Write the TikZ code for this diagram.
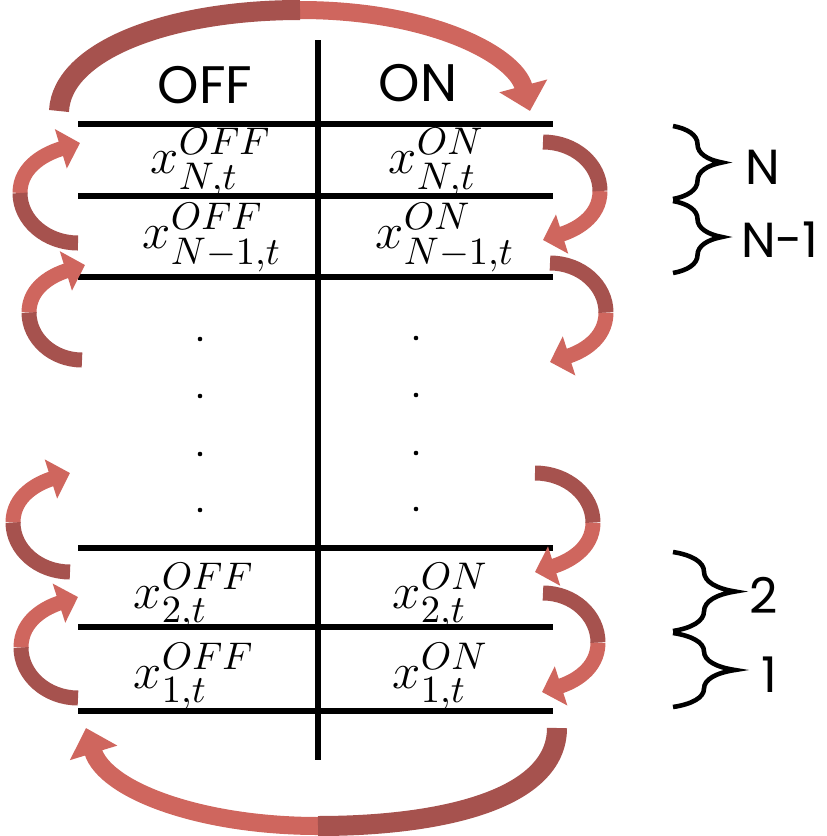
\documentclass[tikz,border=0pt]{standalone}
\usepackage{amsmath}
\usepackage[no-math]{fontspec}
\newfontfamily\headfont{Poppins}
\usetikzlibrary{arrows.meta,decorations.pathreplacing}
\definecolor{ribbonlight}{RGB}{207,102,94}
\definecolor{ribbondark}{RGB}{166,82,78}
\tikzset{
    gridline/.style={line width=1.5pt},
    ribbontail/.style={draw=ribbondark, line width=0.15cm},
    ribbonhead/.style={draw=ribbonlight, line width=0.15cm, -{Triangle[width=0.4cm,length=0.2cm]}},
    bigtail/.style={ribbontail, line width=0.2cm},
    bighead/.style={ribbonhead, line width=0.18cm, -{Triangle[width=0.48cm,length=0.26cm]}},
    colhead/.style={inner sep=0pt, font=\headfont\fontsize{15}{18}\selectfont},
    cellmath/.style={anchor=base west, inner sep=0pt, font=\fontsize{15.5}{18}\selectfont},
    bracedraw/.style={decorate, line width=1.3pt},
    bracelabel/.style={inner sep=0pt, font=\headfont\fontsize{14}{17}\selectfont}
}
\begin{document}
\begin{tikzpicture}[x=0.01cm, y=-0.01cm]
    \useasboundingbox (0,0) rectangle (827,836);
    % table
    \foreach \y in {124,196,277,548,627,711}
        \draw[gridline] (78,\y) -- (553,\y);
    \draw[gridline] (318,40) -- (318,760);
    \node[colhead] (offhead) at (205,85) {OFF};
    \node[colhead] (onhead) at (418,83) {ON};
    \node[cellmath] (offN) at (150,173) {$x^{OFF}_{N,t}$};
    \node[cellmath] (onN) at (388,173) {$x^{ON}_{N,t}$};
    \node[cellmath] (offNm) at (142,248) {$x^{OFF}_{N-1,t}$};
    \node[cellmath] (onNm) at (375,248) {$x^{ON}_{N-1,t}$};
    \node[cellmath] (off2) at (133,608) {$x^{OFF}_{2,t}$};
    \node[cellmath] (on2) at (392,608) {$x^{ON}_{2,t}$};
    \node[cellmath] (off1) at (133,688) {$x^{OFF}_{1,t}$};
    \node[cellmath] (on1) at (392,688) {$x^{ON}_{1,t}$};
    \foreach \y in {339,396,454,510} {
        \fill (200,\y) circle[radius=0.023cm];
        \fill (416,\y-1) circle[radius=0.023cm];
    }
    % side ribbons: tail, turning point, head
    \foreach \xt/\yt/\xe/\xh/\yh in {78/243/20/80/143, 82/360/29/85/265, 70/572/13/70/473, 78/698/21/78/597,
            543/142/600/543/240, 550/263/606/550/362, 535/473/593/535/572, 543/593/598/542/692} {
        \pgfmathsetmacro\ym{(\yt+\yh)/2}
        \pgfmathsetmacro\ry{(\yh-\yt)/2}
        \pgfmathsetmacro\ca{\xt+0.55*(\xe-\xt)}
        \pgfmathsetmacro\cb{\ym-0.55*\ry}
        \pgfmathsetmacro\cc{\ym+0.55*\ry}
        \pgfmathsetmacro\cd{\xh+0.55*(\xe-\xh)}
        \pgfmathsetmacro\ce{\yh-0.2*\ry}
        \draw[ribbonhead] (\xe,\ym) .. controls (\xe,\cc) and (\cd,\ce) .. (\xh,\yh);
        \draw[ribbontail] (\xt,\yt) .. controls (\ca,\yt) and (\xe,\cb) .. (\xe,\ym);
    }
    % top and bottom ribbons
    \draw[bighead] (300,10) .. controls (430,10) and (515,55) .. (530,111);
    \draw[bigtail] (59,111) .. controls (62,50) and (170,10) .. (300,10);
    \draw[bighead] (318,826) .. controls (200,826) and (105,790) .. (86,728);
    \draw[bigtail] (557,728) .. controls (557,800) and (440,826) .. (318,826);
    % braces
    \draw[bracedraw, decoration={brace, amplitude=0.49cm}] (673,126) -- (673,199);
    \draw[bracedraw, decoration={brace, amplitude=0.49cm}] (673,201) -- (673,273);
    \draw[bracedraw, decoration={brace, amplitude=0.62cm}] (673,552) -- (673,631);
    \draw[bracedraw, decoration={brace, amplitude=0.62cm}] (673,633) -- (673,707);
    \node[bracelabel] (lblN) at (763,167) {N};
    \node[bracelabel] (lblNm) at (780,240) {N-1};
    \node[bracelabel] (lbl2) at (764,595) {2};
    \node[bracelabel] (lbl1) at (769,675) {1};
\end{tikzpicture}
\end{document}
